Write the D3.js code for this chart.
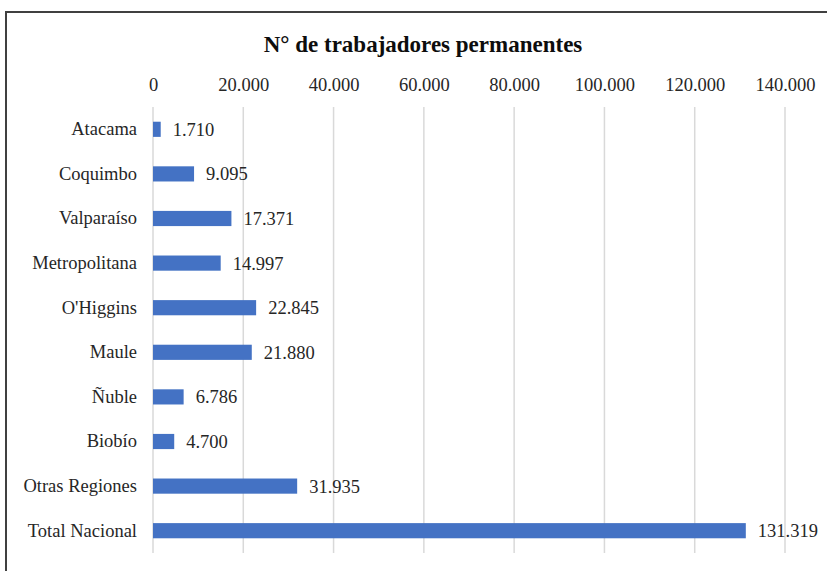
<!DOCTYPE html>
<html>
<head>
<meta charset="utf-8">
<script src="https://cdn.jsdelivr.net/npm/d3@7"></script>
<style>
  body { margin: 0; background: #fff; }
</style>
</head>
<body>
<div id="chart"></div>
<script>
'use strict';

var regions = ['Atacama', 'Coquimbo', 'Valparaíso', 'Metropolitana', "O'Higgins",
  'Maule', 'Ñuble', 'Biobío', 'Otras Regiones', 'Total Nacional'];
var trabajadores = [1710, 9095, 17371, 14997, 22845, 21880, 6786, 4700, 31935, 131319];
var xTicks = [0, 20000, 40000, 60000, 80000, 100000, 120000, 140000];
var title = 'N° de trabajadores permanentes';

var width = 827, height = 571;
var margins = { top: 107, left: 153, right: 42, bottom: 18 };
var serif = "'Liberation Serif', 'Times New Roman', serif";
var fontSize = 18.5;

var fmt = function(v) {
  return d3.format(',')(v).replace(/,/g, '.');
};

var svg = d3.select('#chart').append('svg')
  .attr('width', width)
  .attr('height', height)
  .attr('font-family', serif);

// frame (only top and left edges visible in the crop)
svg.append('path')
  .attr('d', 'M6,' + (height + 2) + 'V12H' + (width + 2))
  .attr('fill', 'none')
  .attr('stroke', '#404040')
  .attr('stroke-width', 2);

var xScale = d3.scaleLinear()
  .domain([0, 140000])
  .range([margins.left, width - margins.right]);

var yScale = d3.scaleBand()
  .domain(regions)
  .range([margins.top, height - margins.bottom])
  .paddingInner(0.66)
  .paddingOuter(0.33);

// gridlines
svg.append('g').selectAll('line')
  .data(xTicks)
  .enter().append('line')
  .attr('x1', function(d) { return xScale(d); })
  .attr('x2', function(d) { return xScale(d); })
  .attr('y1', margins.top)
  .attr('y2', height - margins.bottom)
  .attr('stroke', '#d9d9d9')
  .attr('stroke-width', 1.5);

// top axis labels
var xAxis = d3.axisTop(xScale)
  .tickValues(xTicks)
  .tickFormat(fmt)
  .tickSize(0)
  .tickPadding(0);
var xg = svg.append('g')
  .attr('transform', 'translate(0,91)')
  .call(xAxis)
  .attr('font-family', serif)
  .attr('font-size', fontSize);
xg.select('.domain').remove();
xg.selectAll('text').attr('fill', '#262626');

// category labels
var yAxis = d3.axisLeft(yScale).tickSize(0).tickPadding(16);
var yg = svg.append('g')
  .attr('transform', 'translate(' + margins.left + ',0)')
  .call(yAxis)
  .attr('font-family', serif)
  .attr('font-size', fontSize);
yg.select('.domain').remove();
yg.selectAll('text').attr('fill', '#262626');

var rows = regions.map(function(r, i) { return { region: r, value: trabajadores[i] }; });

svg.append('g').selectAll('rect')
  .data(rows)
  .enter().append('rect')
  .attr('x', xScale(0))
  .attr('y', function(d) { return yScale(d.region); })
  .attr('width', function(d) { return xScale(d.value) - xScale(0); })
  .attr('height', yScale.bandwidth())
  .attr('fill', '#4472c4');

svg.append('g').selectAll('text')
  .data(rows)
  .enter().append('text')
  .attr('x', function(d) { return xScale(d.value) + 12; })
  .attr('y', function(d) { return yScale(d.region) + yScale.bandwidth() / 2; })
  .attr('dy', '0.35em')
  .attr('font-size', fontSize)
  .attr('fill', '#262626')
  .text(function(d) { return fmt(d.value); });

svg.append('text')
  .attr('x', 423)
  .attr('y', 52)
  .attr('text-anchor', 'middle')
  .attr('font-size', 23)
  .attr('font-weight', 'bold')
  .attr('fill', '#0d0d0d')
  .text(title);
</script>
</body>
</html>
